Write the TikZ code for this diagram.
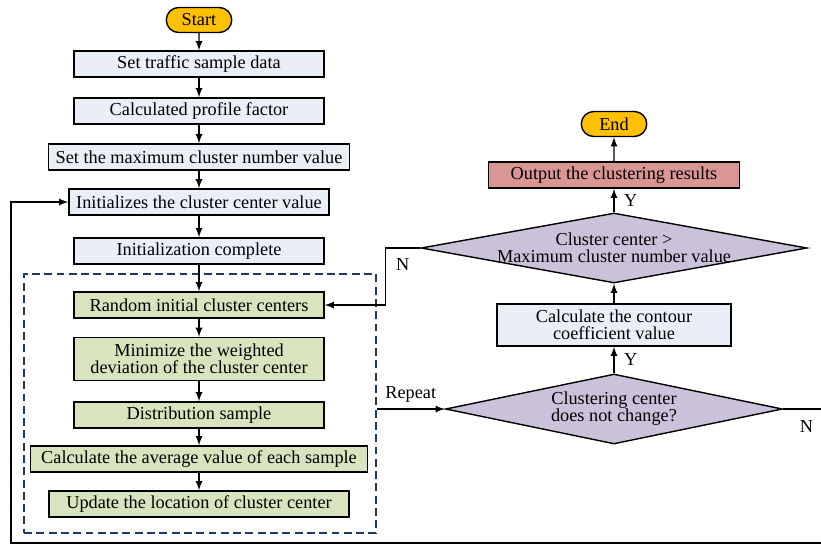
\documentclass[tikz,border=0pt]{standalone}
\usepackage{fontspec}
\setmainfont{Liberation Serif}
\usetikzlibrary{shapes, positioning, arrows}

\definecolor{startfill}{RGB}{255,192,0}
\definecolor{stepfill}{RGB}{234,239,247}
\definecolor{loopfill}{RGB}{215,228,189}
\definecolor{decidefill}{RGB}{204,193,218}
\definecolor{outfill}{RGB}{217,150,148}
\definecolor{loopline}{RGB}{31,56,100}

\begin{document}
\begin{tikzpicture}[x=0.02cm, y=-0.02cm, font=\fontsize{10.4}{9.8}\selectfont,
    term/.style={rounded rectangle, draw, line width=0.8pt, fill=startfill, minimum width=1.38cm, minimum height=0.5cm, inner sep=1pt},
    stepbox/.style={rectangle, draw, line width=0.8pt, fill=stepfill, minimum height=0.52cm, inner sep=1pt, align=center},
    loopstep/.style={stepbox, fill=loopfill},
    decide/.style={diamond, draw, line width=0.8pt, fill=decidefill, minimum height=1.4cm, inner sep=0pt},
    arrow/.style={-latex, line width=0.8pt}]
\useasboundingbox (0,0) rectangle (821,545);

\node[term] (start) at (199,20) {Start};
\node[stepbox, minimum width=5cm] (data) at (199,64) {Set traffic sample data};
\node[stepbox, minimum width=5cm] (profile) at (199,111) {Calculated profile factor};
\node[stepbox, minimum width=6.02cm] (maxnum) at (199,157) {Set the maximum cluster number value};
\node[stepbox, minimum width=5.2cm] (init) at (199,202) {Initializes the cluster center value};
\node[stepbox, minimum width=5cm] (initdone) at (199,251) {Initialization complete};

\node[draw=loopline, dash pattern=on 4.5pt off 2.5pt, line width=0.7pt, minimum width=7.04cm, minimum height=5.18cm] (inner) at (200,403.5) {};
\node[loopstep, minimum width=5cm] (random) at (199,305) {Random initial cluster centers};
\node[loopstep, minimum width=5cm, minimum height=0.86cm] (minimize) at (199,359) {Minimize the weighted\\deviation of the cluster center};
\node[loopstep, minimum width=5cm] (distrib) at (199,415) {Distribution sample};
\node[loopstep, minimum width=6.74cm] (average) at (199,459) {Calculate the average value of each sample};
\node[loopstep, minimum width=6cm] (update) at (199,504) {Update the location of cluster center};

\node[decide, minimum width=6.74cm, label={[align=center]center:Clustering center\\does not change?}] (change) at (614,409) {};
\node[stepbox, minimum width=4.68cm, minimum height=0.84cm] (contour) at (614,325) {Calculate the contour\\coefficient value};
\node[decide, minimum width=7.72cm, label={[align=center]center:Cluster center >\\Maximum cluster number value}] (compare) at (614,248) {};
\node[stepbox, fill=outfill, minimum width=5.02cm] (output) at (614,175) {Output the clustering results};
\node[term] (end) at (614,124) {End};

\coordinate (rightturn) at (830,409);
\coordinate (loopcorner) at (11,543);

\draw[arrow] (start) -- (data);
\draw[arrow] (data) -- (profile);
\draw[arrow] (profile) -- (maxnum);
\draw[arrow] (maxnum) -- (init);
\draw[arrow] (init) -- (initdone);
\draw[arrow] (initdone) -- (random);
\draw[arrow] (random) -- (minimize);
\draw[arrow] (minimize) -- (distrib);
\draw[arrow] (distrib) -- (average);
\draw[arrow] (average) -- (update);

\draw[arrow] (inner.east |- change) -- node[above] {Repeat} (change.west);
\draw[arrow] (change.north) -- node[right=2pt] {Y} (contour.south);
\draw[arrow] (contour) -- (compare.south);
\draw[arrow] (compare.north) -- node[right=2pt] {Y} (output.south);
\draw[arrow] (output) -- (end);
\draw[arrow] (compare.west) -- node[below=2pt] {N} ++(-35,0) |- (random.east);
\draw[arrow] (change.east) -- node[below=3pt] {N} (rightturn) |- (loopcorner) |- (init.west);
\end{tikzpicture}
\end{document}
